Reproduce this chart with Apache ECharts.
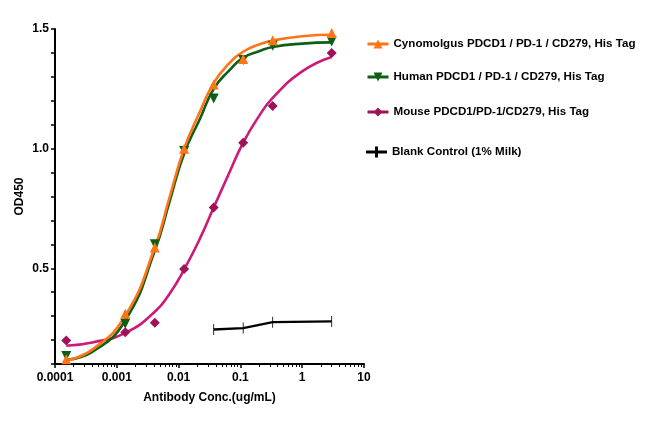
<!DOCTYPE html>
<html>
<head>
    <meta charset="utf-8">
    <title>PD-1 ELISA</title>
    <script src="https://cdn.jsdelivr.net/npm/echarts@6/dist/echarts.min.js"></script>
    <style>
        * { margin: 0; padding: 0 }
        #main { width: 650px; height: 431px; background: #fff; }
    </style>
</head>
<body>
    <div id="main"></div>
    <script type="text/javascript">
        // measured points (ug/mL vs OD450)
        var conc = [0.000152, 0.00137, 0.00412, 0.0123, 0.037, 0.111, 0.333, 3];
        var cynoOD = [0.12, 0.31, 0.587, 1.0, 1.268, 1.375, 1.453, 1.483];
        var humanOD = [0.133, 0.268, 0.60, 0.99, 1.21, 1.37, 1.43, 1.448];
        var mouseOD = [0.198, 0.233, 0.272, 0.497, 0.754, 1.025, 1.178, 1.40];
        var blankConc = [0.037, 0.111, 0.333, 3];
        var blankOD = [0.244, 0.25, 0.275, 0.278];

        // fitted curves
        var fitConc = [0.000152, 0.0004, 0.00137, 0.00412, 0.0072, 0.0123, 0.0222, 0.037, 0.065, 0.111, 0.2, 0.333, 1, 3];
        var cynoFit = [0.115, 0.16, 0.302, 0.587, 0.80, 1.0, 1.155, 1.275, 1.355, 1.405, 1.435, 1.452, 1.47, 1.476];
        var humanFit = [0.118, 0.15, 0.282, 0.573, 0.782, 0.98, 1.125, 1.25, 1.325, 1.38, 1.407, 1.425, 1.439, 1.444];
        var mouseFit = [0.176, 0.19, 0.23, 0.318, 0.395, 0.495, 0.625, 0.754, 0.895, 1.025, 1.136, 1.212, 1.323, 1.383];

        var names = [
            'Cynomolgus PDCD1 / PD-1 / CD279, His Tag',
            'Human PDCD1 / PD-1 / CD279, His Tag',
            'Mouse PDCD1/PD-1/CD279, His Tag',
            'Blank Control (1% Milk)'
        ];
        var yTicks = [0.5, 1.0, 1.5];

        function pairs(xs, ys) {
            return xs.map(function (x, i) { return [x, ys[i]]; });
        }

        var font = 'Liberation Sans, Arial, sans-serif';
        var barSymbol = 'path://M0,0 L3,0 L3,11 L0,11 Z';
        // line with a bar in the middle, for the blank control legend entry
        var crossIcon = 'path://M0,4 L9,4 L9,0 L12,0 L12,4 L21,4 L21,7 L12,7 L12,11 L9,11 L9,7 L0,7 Z';
        var myChart = echarts.init(document.getElementById('main'));

        function pointSeries(name, xs, ys, color, symbol, size, rotate) {
            return {
                name: name,
                type: 'line',
                data: pairs(xs, ys),
                symbol: symbol,
                symbolSize: size,
                symbolRotate: rotate || 0,
                showAllSymbol: true,
                lineStyle: { width: 0, opacity: 0 },
                itemStyle: { color: color },
                z: 5,
                animation: false
            };
        }

        function fitSeries(ys, color) {
            return {
                name: 'fit',
                type: 'line',
                data: pairs(fitConc, ys),
                symbol: 'none',
                smooth: 0.5,
                lineStyle: { color: color, width: 2.6 },
                z: 3,
                animation: false
            };
        }

        function legendAt(item, top) {
            return {
                data: [item],
                left: 366,
                top: top,
                padding: 0,
                itemWidth: 21,
                itemHeight: 11,
                lineStyle: { opacity: 1, width: 3 },
                textStyle: { fontFamily: font, fontWeight: 'bold', fontSize: 11.6, color: '#000' }
            };
        }

        var option = {
            backgroundColor: '#fff',
            legend: [
                legendAt(names[0], 38),
                legendAt(names[1], 71),
                legendAt(names[2], 106),
                legendAt({ name: names[3], icon: crossIcon }, 146)
            ],
            grid: { left: 55, right: 286, top: 29, bottom: 67 },
            xAxis: {
                type: 'log',
                logBase: 10,
                min: 0.0001,
                max: 10,
                name: 'Antibody Conc.(ug/mL)',
                nameLocation: 'middle',
                nameGap: 28,
                nameTextStyle: { fontFamily: font, fontWeight: 'bold', fontSize: 12, color: '#000' },
                axisLine: { lineStyle: { color: '#000', width: 2 } },
                axisTick: { show: true, length: 4, lineStyle: { color: '#000', width: 1.5 } },
                minorTick: { show: true, splitNumber: 9, length: 3, lineStyle: { color: '#000', width: 1 } },
                splitLine: { show: false },
                axisLabel: {
                    fontFamily: font, fontWeight: 'bold', fontSize: 12, color: '#000', margin: 8,
                    formatter: function (v) { return String(v); }
                }
            },
            yAxis: {
                type: 'value',
                min: 0.1,
                max: 1.5,
                interval: 0.1,
                name: 'OD450',
                nameLocation: 'middle',
                nameGap: 29,
                nameRotate: 90,
                nameTextStyle: { fontFamily: font, fontWeight: 'bold', fontSize: 12, color: '#000' },
                axisLine: { show: true, lineStyle: { color: '#000', width: 2 } },
                axisTick: { show: true, length: 4, lineStyle: { color: '#000', width: 1.5 } },
                splitLine: { show: false },
                axisLabel: {
                    fontFamily: font, fontWeight: 'bold', fontSize: 12, color: '#000', margin: 6,
                    formatter: function (v) {
                        for (var i = 0; i < yTicks.length; i++) {
                            if (Math.abs(v - yTicks[i]) < 1e-6) return yTicks[i].toFixed(1);
                        }
                        return '';
                    }
                }
            },
            series: [
                {
                    name: names[3],
                    type: 'line',
                    data: pairs(blankConc, blankOD),
                    symbol: barSymbol,
                    symbolSize: [3, 11],
                    symbolKeepAspect: true,
                    showAllSymbol: true,
                    lineStyle: { color: '#000', width: 2.4 },
                    itemStyle: { color: '#000' },
                    animation: false
                },
                fitSeries(mouseFit, '#CC1A78'),
                pointSeries(names[2], conc, mouseOD, '#9E1257', 'diamond', 10),
                fitSeries(humanFit, '#0E5F14'),
                pointSeries(names[1], conc, humanOD, '#0E5F14', 'triangle', 10, 180),
                fitSeries(cynoFit, '#FF7417'),
                pointSeries(names[0], conc, cynoOD, '#FF7417', 'triangle', 10)
            ]
        };

        myChart.setOption(option);
    </script>
</body>
</html>
